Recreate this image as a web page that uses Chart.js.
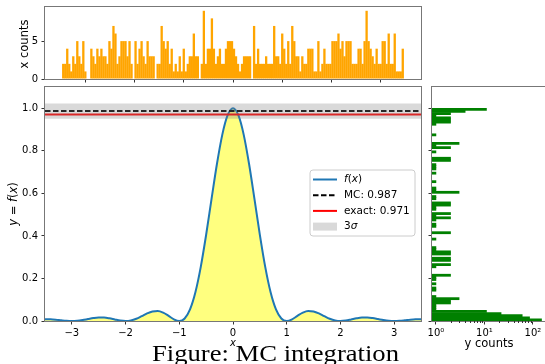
<!DOCTYPE html>
<html><head><meta charset="utf-8">
<script src="https://cdn.jsdelivr.net/npm/chart.js@4.4.1/dist/chart.umd.min.js"></script>
<style>
html,body{margin:0;padding:0;background:#fff;}
#wrap{position:relative;width:545px;height:364px;overflow:hidden;background:#fff;}
canvas{position:absolute;left:0;top:0;}
</style></head><body>
<div id="wrap">
<canvas id="cTop" width="545" height="364"></canvas>
<canvas id="cMain" width="545" height="364"></canvas>
<canvas id="cRight" width="545" height="364"></canvas>
</div>
<script>
// ---------------- data ----------------
const F_X = [-3.5,-3.4,-3.3,-3.2,-3.1,-3.0,-2.9,-2.8,-2.7,-2.6,-2.5,-2.4,-2.3,-2.2,-2.1,-2.0,-1.9,-1.8,-1.7,-1.6,-1.5,-1.4,-1.3,-1.2,-1.1,-1.0,-0.9,-0.8,-0.7,-0.6,-0.5,-0.4,-0.3,-0.2,-0.1,
  0.0,0.1,0.2,0.3,0.4,0.5,0.6,0.7,0.8,0.9,1.0,1.1,1.2,1.3,1.4,1.5,1.6,1.7,1.8,1.9,2.0,2.1,2.2,2.3,2.4,2.5,2.6,2.7,2.8,2.9,3.0,3.1,3.2,3.3,3.4,3.5];
const F_Y = [0.0083,0.0079,0.0061,0.0034,0.0010,0,0.0012,0.0045,0.0091,0.0136,0.0162,0.0159,0.0125,0.0072,0.0022,0,0.0027,0.0108,0.0229,0.0358,0.0450,0.0468,0.0392,0.0243,0.0080,0,0.0119,0.0547,0.1353,0.2546,0.4053,0.5728,0.7368,0.8751,0.9675,
  1.0,0.9675,0.8751,0.7368,0.5728,0.4053,0.2546,0.1353,0.0547,0.0119,0,0.0080,0.0243,0.0392,0.0468,0.0450,0.0358,0.0229,0.0108,0.0027,0,0.0022,0.0072,0.0125,0.0159,0.0162,0.0136,0.0091,0.0045,0.0012,0,0.0010,0.0034,0.0061,0.0079,0.0083];
const MC_VALUE = 0.987;
const EXACT_VALUE = 0.971;
const MC_SIGMA = 0.012;
const MAIN_X_RANGE = [-3.5, 3.5];
const MAIN_Y_RANGE = [0, 1.1];
const MAIN_X_TICKS = [-3,-2,-1,0,1,2,3];
const MAIN_Y_TICKS = [0,0.2,0.4,0.6,0.8,1.0];

const X_HIST_EDGES = [-3.47, 3.47];
const X_COUNTS = [2,2,4,2,1,3,2,5,3,2, 5,1,0,0,4,3,2,4,3,4, 3,3,2,5,4,7,6,2,3,5, 5,5,3,5,2,0,5,2,4,5,
  3,2,5,3,3,3,0,2,2,7, 5,4,5,2,4,1,2,1,3,1, 4,1,2,3,3,6,3,3,0,2, 9,2,4,4,8,4,2,3,4,2,
  2,4,5,5,5,4,3,2,1,2, 3,3,3,3,0,7,2,4,2,2, 2,3,2,2,2,7,
  3,3,2,6,4,2,5,2,7,5, 3,3,1,3,2,2,4,4,4,1, 1,5,1,2,4,2,2,2,5,5, 5,6,4,5,3,5,5,5,2,2,
  2,4,4,2,5,9,5,4,3,2, 4,2,2,5,5,2,6,2,2,6, 1,1,1,4];
const TOP_X_RANGE = [-3.82, 3.82];
const TOP_Y_RANGE = [0, 9.5];
const TOP_X_TICKS = [-3,-2,-1,0,1,2,3];
const TOP_Y_TICKS = [0,5];

const Y_HIST_EDGES = [0, 1];
const Y_COUNTS = [150,85,60,22,11,1,1,1,2,2, 3,1,0,0,1,1,0,1,0,1, 1,2,0,0,0,1,2,0,2,2, 0,2,2,1,1,0,0,0,1,0,
  0,2,0,0,1,1,0,1,2,1, 2,0,1,1,2,2,0,1,1,0, 3,1,1,0,0,1,0,0,0,1, 0,1,1,1,0,2,2,0,0,1,
  0,2,1,3,0,0,0,1,0,0, 0,0,1,2,2,2,1,2,4,11];
const RIGHT_X_RANGE = [0.83, 177];
const RIGHT_X_TICKS = [1,10,100];
const RIGHT_X_TICK_LABELS = ['10\u2070','10\u00B9','10\u00B2'];
const RIGHT_X_MINOR = [2,3,4,5,6,7,8,9,20,30,40,50,60,70,80,90];

// ---------------- style ----------------
const FAM = '"DejaVu Sans"';
Chart.defaults.font.family = 'DejaVu Sans';
Chart.defaults.font.size = 10;
Chart.defaults.color = '#000';
Chart.defaults.animation = false;
Chart.defaults.responsive = false;
Chart.defaults.events = [];
Chart.defaults.plugins.legend.display = false;
Chart.defaults.plugins.tooltip.enabled = false;
const TICK_COLOR = '#333';
const FRAME_COLOR = '#777';

function fixedSize(dim){
  return function(s){
    if (s.isHorizontal()) { s.height = dim; s.paddingLeft = 0; s.paddingRight = 0; }
    else { s.width = dim; s.paddingTop = 0; s.paddingBottom = 0; }
  };
}
function setTicks(arr){ return function(s){ s.ticks = arr.map(v => ({value: v})); }; }
function gridOpts(){ return {display:true, drawOnChartArea:false, drawTicks:true, tickLength:3.5, color:TICK_COLOR, lineWidth:1, offset:false}; }
function pad(L,T,R,B,yw,xh){ return {padding:{left:L-yw, top:T, right:545-R, bottom:364-B-xh}}; }

const framePlugin = {id:'frame', afterDatasetsDraw(chart){
  const {ctx, chartArea:a} = chart;
  ctx.save(); ctx.strokeStyle = FRAME_COLOR; ctx.lineWidth = 1;
  ctx.strokeRect(a.left-0.5, a.top-0.5, a.right-a.left+1, a.bottom-a.top+1);
  ctx.restore();
}};

function rich(ctx, segs, x, y, size, align){
  let w = 0;
  segs.forEach(s => { ctx.font = (s[1]?'italic ':'') + size + 'px ' + FAM; w += ctx.measureText(s[0]).width; });
  let cx = align === 'center' ? x - w/2 : x;
  segs.forEach(s => { ctx.font = (s[1]?'italic ':'') + size + 'px ' + FAM; ctx.fillText(s[0], cx, y); cx += ctx.measureText(s[0]).width; });
}

// ---------------- top histogram ----------------
const xBinW = (X_HIST_EDGES[1]-X_HIST_EDGES[0]) / X_COUNTS.length;
new Chart(document.getElementById('cTop'), {
  type:'bar',
  data:{datasets:[{data: X_COUNTS.map((c,i)=>({x: X_HIST_EDGES[0]+(i+0.5)*xBinW, y:c})),
    backgroundColor:'#ffa500', borderWidth:0, barPercentage:1.15, categoryPercentage:1.0}]},
  options:{
    layout: pad(45,7,421,79,45,10),
    scales:{
      x:{type:'linear', min:TOP_X_RANGE[0], max:TOP_X_RANGE[1], offset:false, grid:gridOpts(), border:{display:false},
         ticks:{display:false}, afterBuildTicks:setTicks(TOP_X_TICKS), afterFit:fixedSize(10)},
      y:{type:'linear', min:TOP_Y_RANGE[0], max:TOP_Y_RANGE[1], grid:gridOpts(), border:{display:false},
         ticks:{padding:3.5, callback:v=>String(v)}, afterBuildTicks:setTicks(TOP_Y_TICKS), afterFit:fixedSize(45)}
    }
  },
  plugins:[framePlugin, {id:'toplabels', afterDraw(chart){
    const ctx = chart.ctx; ctx.save(); ctx.fillStyle='#000'; ctx.textBaseline='middle';
    ctx.translate(25, 44); ctx.rotate(-Math.PI/2);
    ctx.textAlign='center'; ctx.font = '11.5px ' + FAM; ctx.fillText('x counts', 0, 0);
    ctx.restore();
  }}]
});

// ---------------- main chart ----------------
const legendPlugin = {id:'legendBox', afterDraw(chart){
  const ctx = chart.ctx;
  ctx.save();
  const bx=310, by=170, bw=105, bh=66, r=3;
  ctx.beginPath();
  ctx.moveTo(bx+r,by); ctx.lineTo(bx+bw-r,by); ctx.arcTo(bx+bw,by,bx+bw,by+r,r);
  ctx.lineTo(bx+bw,by+bh-r); ctx.arcTo(bx+bw,by+bh,bx+bw-r,by+bh,r);
  ctx.lineTo(bx+r,by+bh); ctx.arcTo(bx,by+bh,bx,by+bh-r,r);
  ctx.lineTo(bx,by+r); ctx.arcTo(bx,by,bx+r,by,r); ctx.closePath();
  ctx.fillStyle='rgba(255,255,255,0.8)'; ctx.fill();
  ctx.strokeStyle='#cccccc'; ctx.lineWidth=1; ctx.stroke();
  const x0=313, x1=337, tx=344, rows=[179.5,195.2,210.9,226.6];
  ctx.lineWidth=2;
  ctx.strokeStyle='#1f77b4'; ctx.beginPath(); ctx.moveTo(x0,rows[0]); ctx.lineTo(x1,rows[0]); ctx.stroke();
  ctx.strokeStyle='#000'; ctx.setLineDash([5.5,2.5]); ctx.beginPath(); ctx.moveTo(x0,rows[1]); ctx.lineTo(x1,rows[1]); ctx.stroke();
  ctx.setLineDash([]);
  ctx.strokeStyle='#ff0000'; ctx.beginPath(); ctx.moveTo(x0,rows[2]); ctx.lineTo(x1,rows[2]); ctx.stroke();
  ctx.fillStyle='rgba(128,128,128,0.3)'; ctx.fillRect(x0, rows[3]-4, x1-x0, 8);
  ctx.fillStyle='#000'; ctx.textBaseline='middle'; ctx.textAlign='left';
  const fs = 10.5;
  rich(ctx, [['f',1],['(',0],['x',1],[')',0]], tx, rows[0], fs, 'left');
  rich(ctx, [['MC: '+MC_VALUE.toFixed(3),0]], tx, rows[1], fs, 'left');
  rich(ctx, [['exact: '+EXACT_VALUE.toFixed(3),0]], tx, rows[2], fs, 'left');
  rich(ctx, [['3',0],['\u03C3',1]], tx, rows[3], fs, 'left');
  ctx.restore();
}};
const labelPlugin = {id:'mainLabels', afterDraw(chart){
  const ctx = chart.ctx;
  ctx.save(); ctx.fillStyle='#000'; ctx.textBaseline='middle'; ctx.textAlign='left';
  ctx.save(); ctx.translate(14, 204); ctx.rotate(-Math.PI/2);
  rich(ctx, [['y',1],[' = ',0],['f',1],['(',0],['x',1],[')',0]], 0, 0, 11.5, 'center');
  ctx.restore();
  rich(ctx, [['x',1]], 233, 343, 10, 'center');
  const txt = 'Figure: MC integration';
  ctx.font = '24px "Liberation Serif"';
  const w = ctx.measureText(txt).width;
  ctx.translate(152, 361); ctx.scale(247/w, 1);
  ctx.textBaseline='alphabetic'; ctx.fillText(txt, 0, 0);
  ctx.restore();
}};
const sig3 = 3*MC_SIGMA;
new Chart(document.getElementById('cMain'), {
  type:'line',
  data:{datasets:[
    {data: F_X.map((x,i)=>({x, y:F_Y[i]})), borderColor:'#1f77b4', borderWidth:2, pointRadius:0,
     fill:'origin', backgroundColor:'rgba(255,255,0,0.5)', cubicInterpolationMode:'monotone', order:4},
    {data:[{x:MAIN_X_RANGE[0],y:MC_VALUE},{x:MAIN_X_RANGE[1],y:MC_VALUE}], borderColor:'#000', borderWidth:2,
     borderDash:[5.5,2.5], pointRadius:0, fill:false, order:3},
    {data:[{x:MAIN_X_RANGE[0],y:EXACT_VALUE},{x:MAIN_X_RANGE[1],y:EXACT_VALUE}], borderColor:'#ff0000', borderWidth:2,
     pointRadius:0, fill:false, order:2},
    {data:[{x:MAIN_X_RANGE[0],y:MC_VALUE+sig3},{x:MAIN_X_RANGE[1],y:MC_VALUE+sig3}], borderColor:'rgba(0,0,0,0)', borderWidth:1,
     pointRadius:0, fill:{value: MC_VALUE-sig3}, backgroundColor:'rgba(128,128,128,0.3)', order:1}
  ]},
  options:{
    layout: pad(45,87,421,321,45,20),
    scales:{
      x:{type:'linear', min:MAIN_X_RANGE[0], max:MAIN_X_RANGE[1], grid:gridOpts(), border:{display:false},
         ticks:{padding:2.5, autoSkip:false, maxRotation:0, callback:v=>(v<0?'\u2212':'')+Math.abs(v)},
         afterBuildTicks:setTicks(MAIN_X_TICKS), afterFit:fixedSize(20)},
      y:{type:'linear', min:MAIN_Y_RANGE[0], max:MAIN_Y_RANGE[1], grid:gridOpts(), border:{display:false},
         ticks:{padding:3.5, autoSkip:false, callback:v=>Number(v).toFixed(1)},
         afterBuildTicks:setTicks(MAIN_Y_TICKS), afterFit:fixedSize(45)}
    }
  },
  plugins:[framePlugin, legendPlugin, labelPlugin]
});

// ---------------- right histogram ----------------
const yBinW = (Y_HIST_EDGES[1]-Y_HIST_EDGES[0]) / Y_COUNTS.length;
new Chart(document.getElementById('cRight'), {
  type:'bar',
  data:{datasets:[{data: Y_COUNTS.map((c,k)=>({y: Y_HIST_EDGES[0]+(k+0.5)*yBinW, x:c})).filter(d=>d.x>0),
    backgroundColor:'#008000', borderWidth:0, barPercentage:1.0, categoryPercentage:1.0}]},
  options:{
    indexAxis:'y',
    layout: pad(432,87,545,321,10,20),
    scales:{
      x:{type:'logarithmic', min:RIGHT_X_RANGE[0], max:RIGHT_X_RANGE[1], grid:gridOpts(), border:{display:false},
         ticks:{padding:2.5, autoSkip:false, maxRotation:0, callback:(v,i)=>RIGHT_X_TICK_LABELS[i]},
         afterBuildTicks:setTicks(RIGHT_X_TICKS), afterFit:fixedSize(20)},
      y:{type:'linear', min:MAIN_Y_RANGE[0], max:MAIN_Y_RANGE[1], offset:false, grid:gridOpts(), border:{display:false},
         ticks:{display:false}, afterBuildTicks:setTicks(MAIN_Y_TICKS), afterFit:fixedSize(10)}
    }
  },
  plugins:[framePlugin, {id:'rightExtras', afterDraw(chart){
    const ctx = chart.ctx, a = chart.chartArea, sx = chart.scales.x;
    ctx.save(); ctx.strokeStyle = TICK_COLOR; ctx.lineWidth = 1;
    RIGHT_X_MINOR.forEach(v => { const p = Math.round(sx.getPixelForValue(v))+0.5; if (p < a.right) { ctx.beginPath(); ctx.moveTo(p, a.bottom); ctx.lineTo(p, a.bottom+2); ctx.stroke(); } });
    ctx.fillStyle='#000'; ctx.textAlign='center'; ctx.textBaseline='middle';
    ctx.font = '11.5px ' + FAM; ctx.fillText('y counts', 489, 344);
    ctx.restore();
  }}]
});
</script>
</body></html>
